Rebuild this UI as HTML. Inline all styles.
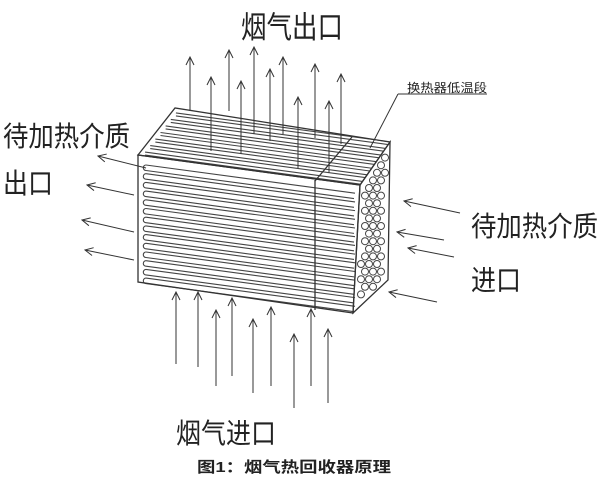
<!DOCTYPE html>
<html><head><meta charset="utf-8"><style>
html,body{margin:0;padding:0;background:#fff;}
svg{display:block;}
text{font-family:"Liberation Sans","Noto Sans CJK SC",sans-serif;fill:#222;}
</style></head><body>
<svg id="s" width="600" height="483" viewBox="0 0 600 483" xmlns="http://www.w3.org/2000/svg">
<defs>
<marker id="a" markerWidth="10" markerHeight="10" refX="9" refY="5" orient="auto" markerUnits="userSpaceOnUse">
<path d="M1,1 L9,5 L1,9" fill="none" stroke="#333" stroke-width="1"/>
</marker>
<clipPath id="tc"><polygon points="138,155 175,108 390,142 360,185"/></clipPath>
</defs>
<g id="tt" stroke="#444" stroke-width="1.1" fill="none" clip-path="url(#tc)"></g>
<g id="tubes" stroke="#444" stroke-width="1.1" fill="none"></g>
<g id="box" stroke="#333" stroke-width="1.3" fill="none">
<polygon points="138,155 175,108 390,142 360,185"/>
<polygon points="138,155 360,185 353,313 138,282"/>
<polygon points="360,185 390,142 388,280 353,313"/>
<line x1="315" y1="180" x2="315" y2="310"/>
<line x1="352" y1="137" x2="315" y2="181"/>
</g>
<g id="circ" stroke="#444" stroke-width="1" fill="#fff"></g>
<g id="arr" stroke="#333" stroke-width="1" fill="none"></g>
<g stroke="#333" stroke-width="1" fill="none">
<line x1="398" y1="94" x2="487" y2="94"/>
<line x1="398" y1="94" x2="370" y2="148"/>
</g>
<text x="407" y="92" font-size="12" textLength="80" lengthAdjust="spacingAndGlyphs">换热器低温段</text>
<text x="241" y="38" font-size="27" textLength="102" lengthAdjust="spacingAndGlyphs" transform="translate(0,-5) scale(1,1.13)">烟气出口</text>
<text x="3" y="146" font-size="28" textLength="127" lengthAdjust="spacingAndGlyphs">待加热介质</text>
<text x="3" y="193" font-size="28" textLength="50" lengthAdjust="spacingAndGlyphs">出口</text>
<text x="471" y="236" font-size="28" textLength="127" lengthAdjust="spacingAndGlyphs">待加热介质</text>
<text x="471" y="290" font-size="28" textLength="50" lengthAdjust="spacingAndGlyphs">进口</text>
<text x="176" y="443" font-size="28" textLength="100" lengthAdjust="spacingAndGlyphs">烟气进口</text>
<text x="197" y="472" font-size="15" font-weight="bold" textLength="194" lengthAdjust="spacingAndGlyphs">图1：烟气热回收器原理</text>
</svg>
<script>
var NS="http://www.w3.org/2000/svg";
function el(g,t,a){var e=document.createElementNS(NS,t);for(var k in a)e.setAttribute(k,a[k]);document.getElementById(g).appendChild(e);return e;}
var sl=0.135;
for(var i=0;i<14;i++){var y=165+i*8.7;
 el("tubes","line",{x1:146,y1:y,x2:355,y2:y+209*sl});
 el("tubes","line",{x1:146,y1:y+5.5,x2:354,y2:y+5.5+208*sl});
 el("tubes","path",{d:"M146,"+y+" a2.7,2.75 0 0 0 0,5.5"});}
for(var j=0;j<7;j++){var t=(j+0.6)/7.2;var x0=175-37*t,y0=108+47*t;
 el("tt","line",{x1:x0+4,y1:y0+1,x2:x0+260,y2:y0+1+256*sl});
 el("tt","line",{x1:x0+4,y1:y0+4,x2:x0+260,y2:y0+4+256*sl});}
// right face hex grid, clipped to parallelogram with margin
function inside(x,y){
 // top edge A(360,185)-B(390,142): y >= line + m
 var m=4.5;
 var yt=185+(x-360)*(-43/30); if(y<yt+m+2) return false;
 var yb=313+(x-353)*(-33/35); if(y>yb-m-2) return false;
 var xl=360+(y-185)*(-7/128); if(x<xl+m) return false;
 var xr=390+(y-142)*(-2/138); if(x>xr-m) return false;
 return true;}
for(var r=0;r<25;r++){var y=150+r*7.6;
 for(var c=0;c<6;c++){var x=357+c*8+(r%2?4:0);
  if(inside(x,y)) el("circ","circle",{cx:x,cy:y.toFixed(1),r:3.5});}}
function ar(x1,y1,x2,y2){el("arr","line",{x1:x1,y1:y1,x2:x2,y2:y2,"marker-end":"url(#a)"});}
[[190,111,57],[211,151,77],[229,111,50],[241,154,81],[254,134,47],[270,141,69],[283,134,57],[298,168,97],[315,138,64],[329,173,101],[341,144,74]].forEach(function(a){ar(a[0],a[1],a[0],a[2]);});
[[176,364,292],[198,367,292],[216,386,310],[232,376,298],[253,393,319],[271,386,307],[294,408,334],[311,386,309],[328,403,329]].forEach(function(a){ar(a[0],a[1],a[0],a[2]);});
ar(146,168,98,156);ar(134,195,87,185);ar(134,232,82,220);ar(134,260,85,250);
ar(460,213,404,201);ar(444,240,397,232);ar(454,257,408,248);ar(437,302,389,292);
</script>
</body></html>
